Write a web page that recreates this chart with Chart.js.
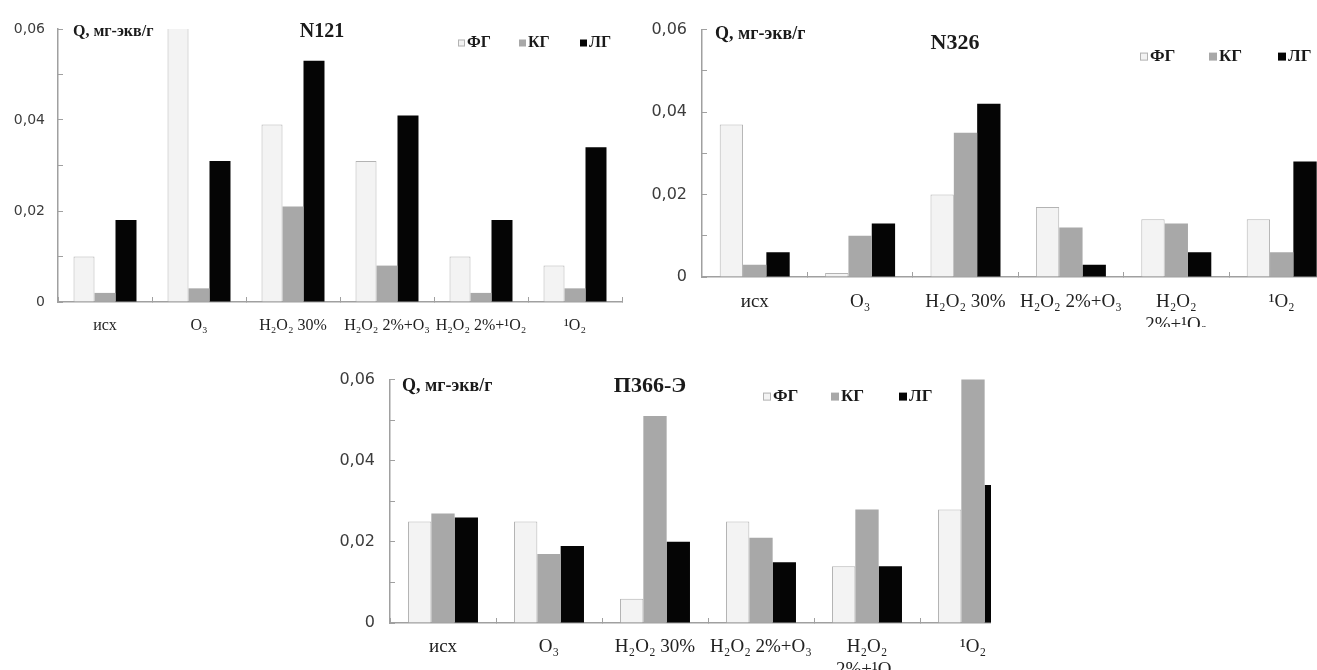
<!DOCTYPE html>
<html lang="ru">
<head>
<meta charset="UTF-8">
<title>Q, мг-экв/г — N121, N326, П366-Э</title>
<script src="https://cdn.jsdelivr.net/npm/chart.js"></script>
<style>
  body { margin: 0; width: 1317px; height: 670px; overflow: hidden; background: #fff; position: relative; }
  .box { position: absolute; overflow: hidden; }
</style>
</head>
<body>
<div class="box" style="left:0px;top:0px;width:640px;height:340px"><canvas id="c1" width="640" height="340"></canvas></div>
<div class="box" style="left:640px;top:0px;width:677px;height:327px"><canvas id="c2" width="700" height="330"></canvas></div>
<div class="box" style="left:330px;top:350px;width:661px;height:320px"><canvas id="c3" width="700" height="320"></canvas></div>

<script>
// категории (на графике N121 подписи в одну строку)
const categoriesN121 = ['исх', 'O₃', 'H₂O₂ 30%', 'H₂O₂ 2%+O₃', 'H₂O₂ 2%+¹O₂', '¹O₂'];
const categories = ['исх', 'O₃', 'H₂O₂ 30%', 'H₂O₂ 2%+O₃', ['H₂O₂', '2%+¹O₂'], '¹O₂'];
const seriesNames = ['ФГ', 'КГ', 'ЛГ'];
const unitLabel = 'Q, мг-экв/г';
const yTickValues = [0, 0.02, 0.04, 0.06];

// N121
const n121FG = [0.010, 0.065, 0.039, 0.031, 0.010, 0.008];
const n121KG = [0.002, 0.003, 0.021, 0.008, 0.002, 0.003];
const n121LG = [0.018, 0.031, 0.053, 0.041, 0.018, 0.034];
// N326
const n326FG = [0.037, 0.001, 0.020, 0.017, 0.014, 0.014];
const n326KG = [0.003, 0.010, 0.035, 0.012, 0.013, 0.006];
const n326LG = [0.006, 0.013, 0.042, 0.003, 0.006, 0.028];
// П366-Э
const p366FG = [0.025, 0.025, 0.006, 0.025, 0.014, 0.028];
const p366KG = [0.027, 0.017, 0.051, 0.021, 0.028, 0.065];
const p366LG = [0.026, 0.019, 0.020, 0.015, 0.014, 0.034];

const SERIF = '"Liberation Serif", "DejaVu Serif", serif';
const SANS = '"DejaVu Sans", sans-serif';

// подпись оси, заголовок и легенда внутри области графика
const annotatePlugin = {
  id: 'annotate',
  afterDraw(chart, args, o) {
    const { ctx, chartArea: a } = chart;
    ctx.save();
    ctx.textBaseline = 'middle';
    ctx.fillStyle = '#1a1a1a';
    ctx.font = o.unitFont;
    ctx.textAlign = 'left';
    ctx.fillText(unitLabel, a.left + o.unitAt[0], a.top + o.unitAt[1]);

    ctx.font = o.titleFont;
    ctx.textAlign = 'center';
    ctx.fillText(o.title, a.left + o.titleAt[0], a.top + o.titleAt[1]);

    ctx.font = o.legendFont;
    ctx.textAlign = 'left';
    chart.data.datasets.forEach((ds, i) => {
      const x = a.left + o.legendAt[0] + i * o.legendGap;
      const y = a.top + o.legendAt[1];
      const s = o.box;
      ctx.fillStyle = ds.backgroundColor;
      ctx.fillRect(x, y - s / 2, s, s);
      if (ds.borderWidth) {
        ctx.strokeStyle = ds.borderColor;
        ctx.lineWidth = 1;
        ctx.strokeRect(x + 0.5, y - s / 2 + 0.5, s - 1, s - 1);
      }
      ctx.fillStyle = '#1a1a1a';
      ctx.fillText(ds.label, x + s + 2, y);
    });
    ctx.restore();
  }
};

function makeChart(id, labels, fg, kg, lg, o) {
  const datasets = [
    { label: seriesNames[0], data: fg, backgroundColor: '#f3f3f3', borderColor: '#b3b3b3', borderWidth: 1 },
    { label: seriesNames[1], data: kg, backgroundColor: '#a8a8a8', borderWidth: 0 },
    { label: seriesNames[2], data: lg, backgroundColor: '#050505', borderWidth: 0 }
  ];
  return new Chart(document.getElementById(id), {
    type: 'bar',
    data: { labels: labels, datasets: datasets },
    options: {
      responsive: false,
      animation: false,
      events: [],
      layout: { padding: { top: o.padTop, right: o.padRight, left: 0, bottom: 0 } },
      datasets: { bar: { categoryPercentage: o.catPct, barPercentage: 1, clip: 0 } },
      plugins: {
        legend: { display: false },
        tooltip: { enabled: false },
        annotate: o.annotate
      },
      scales: {
        x: {
          grid: { offset: true, drawOnChartArea: false, drawTicks: true, tickLength: -5, color: '#a0a0a0', lineWidth: 1 },
          border: { color: '#a0a0a0', width: 1.5 },
          ticks: { color: '#222', font: { family: SERIF, size: o.xFont }, padding: o.xPad, maxRotation: 0, autoSkip: false },
          afterFit: s => { s.height = o.xHeight; }
        },
        y: {
          min: 0,
          max: 0.06,
          grid: { drawOnChartArea: false, drawTicks: true, tickLength: -5, color: '#a0a0a0', lineWidth: 1 },
          border: { color: '#a0a0a0', width: 1.5 },
          ticks: {
            stepSize: 0.01,
            autoSkip: false,
            color: '#3c3c3c',
            font: { family: SANS, size: o.yFont },
            padding: o.yPad,
            callback: v => {
              const t = yTickValues.find(k => Math.abs(k - v) < 1e-9);
              return t === undefined ? '' : (t === 0 ? '0' : t.toFixed(2).replace('.', ','));
            }
          },
          afterFit: s => { s.width = o.yWidth; }
        }
      }
    },
    plugins: [annotatePlugin]
  });
}

makeChart('c1', categoriesN121, n121FG, n121KG, n121LG, {
  padTop: 29, padRight: 18, yWidth: 58, xHeight: 38, catPct: 0.67,
  xFont: 16, xPad: 19, yFont: 14, yPad: 18,
  annotate: {
    title: 'N121', titleFont: 'bold 20px ' + SERIF, titleAt: [264, 3],
    unitFont: 'bold 16px ' + SERIF, unitAt: [15, 3],
    legendFont: 'bold 16px ' + SERIF, legendAt: [400, 14], legendGap: 61, box: 7
  }
});

makeChart('c2', categories, n326FG, n326KG, n326LG, {
  padTop: 25, padRight: 5.6, yWidth: 62, xHeight: 53, catPct: 0.664,
  xFont: 19, xPad: 19, yFont: 16, yPad: 20,
  annotate: {
    title: 'N326', titleFont: 'bold 22px ' + SERIF, titleAt: [253, 14],
    unitFont: 'bold 18px ' + SERIF, unitAt: [13, 5],
    legendFont: 'bold 17px ' + SERIF, legendAt: [438, 27], legendGap: 69, box: 8
  }
});

makeChart('c3', categories, p366FG, p366KG, p366LG, {
  padTop: 28, padRight: 4, yWidth: 60, xHeight: 47, catPct: 0.66,
  xFont: 19, xPad: 18, yFont: 16, yPad: 20,
  annotate: {
    title: 'П366-Э', titleFont: 'bold 22px ' + SERIF, titleAt: [260, 7],
    unitFont: 'bold 18px ' + SERIF, unitAt: [12, 7],
    legendFont: 'bold 17px ' + SERIF, legendAt: [373, 17], legendGap: 68, box: 8
  }
});
</script>
</body>
</html>
